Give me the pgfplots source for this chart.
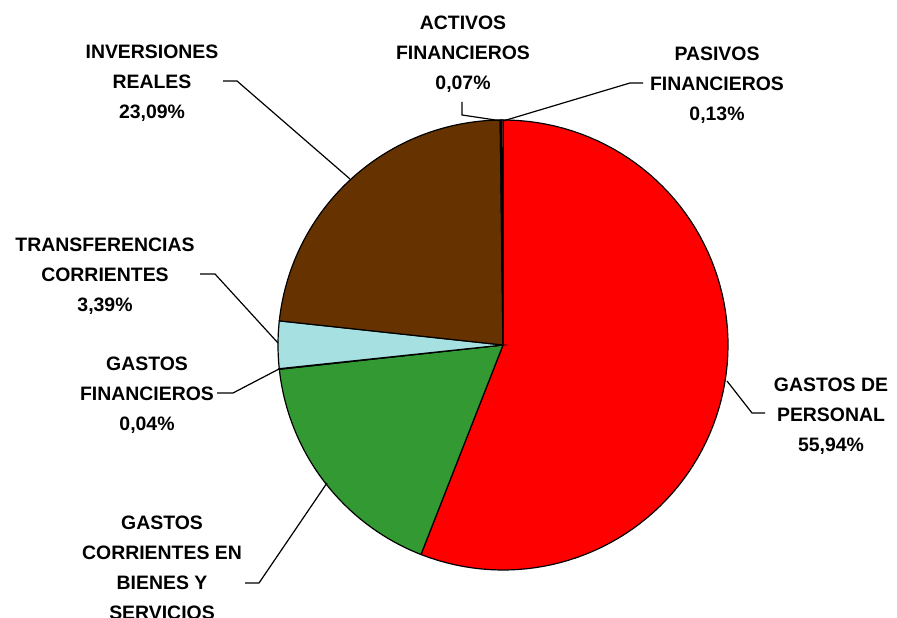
\documentclass[border=0pt]{standalone}
\usepackage{pgfplots}
\pgfplotsset{compat=1.18}
\usepackage{pgfplotstable}
\usepackage{fontspec}
\setmainfont{Liberation Sans}
\definecolor{pie0}{HTML}{FF0000}
\definecolor{pie1}{HTML}{339933}
\definecolor{pie2}{HTML}{FFCC99}
\definecolor{pie3}{HTML}{A6E0E0}
\definecolor{pie4}{HTML}{663300}
\definecolor{pie5}{HTML}{FF9999}
\definecolor{pie6}{HTML}{CC6666}
% clockwise from 12 o'clock
\pgfplotstableread{
name value
personal 55.94
corrientes 17.34
financieros 0.04
transferencias 3.39
inversiones 23.09
activos 0.07
pasivos 0.13
}\piedata
\begin{document}
\begin{tikzpicture}
\useasboundingbox (0,0) rectangle (897bp,618bp);
\clip (0,0) rectangle (897bp,618bp);
\begin{axis}[hide axis, scale only axis, width=897bp, height=618bp,
  xmin=0, xmax=897, ymin=0, ymax=618, clip=false,
  at={(0,0)}, anchor=south west]
\def\startang{90}
\pgfplotsforeachungrouped \i in {0,...,6}{%
  \pgfplotstablegetelem{\i}{value}\of\piedata
  \pgfmathsetmacro\endang{\startang-3.6*\pgfplotsretval}%
  \edef\temp{\noexpand\addplot[fill=pie\i, draw=black, line width=1.2bp,
     domain=\endang:\startang, samples=90, variable=\noexpand\t]
     ({503+225*cos(\noexpand\t)},{273+225*sin(\noexpand\t)}) -- (axis cs:503,273) -- cycle;}%
  \temp
  \global\let\startang\endang
}
\tikzset{lbl/.style={anchor=north, inner sep=0pt, align=center,
  font=\fontsize{19.5}{30}\selectfont\bfseries}}
\draw[line width=1.2bp] (axis cs:223,537) -- (axis cs:237,537) -- (axis cs:350,439);
\draw[line width=1.2bp] (axis cs:462,516) -- (axis cs:462,503) -- (axis cs:502,497);
\draw[line width=1.2bp] (axis cs:643,535) -- (axis cs:630,535) -- (axis cs:503,497);
\draw[line width=1.2bp] (axis cs:200,344) -- (axis cs:215,344) -- (axis cs:278,275);
\draw[line width=1.2bp] (axis cs:217,225) -- (axis cs:233,225) -- (axis cs:279,249);
\draw[line width=1.2bp] (axis cs:245,35) -- (axis cs:259,35) -- (axis cs:327,135);
\draw[line width=1.2bp] (axis cs:727,237) -- (axis cs:752,205) -- (axis cs:765,205);
\node[lbl] at (axis cs:463,602) {ACTIVOS\\FINANCIEROS\\0,07\%};
\node[lbl] at (axis cs:152,573) {INVERSIONES\\REALES\\23,09\%};
\node[lbl] at (axis cs:717,571) {PASIVOS\\FINANCIEROS\\0,13\%};
\node[lbl] at (axis cs:105,380) {TRANSFERENCIAS\\CORRIENTES\\3,39\%};
\node[lbl] at (axis cs:147,261) {GASTOS\\FINANCIEROS\\0,04\%};
\node[lbl] at (axis cs:162,102) {GASTOS\\CORRIENTES EN\\BIENES Y\\SERVICIOS\\17,34\%};
\node[lbl] at (axis cs:831,240) {GASTOS DE\\PERSONAL\\55,94\%};
\end{axis}
\end{tikzpicture}
\end{document}
